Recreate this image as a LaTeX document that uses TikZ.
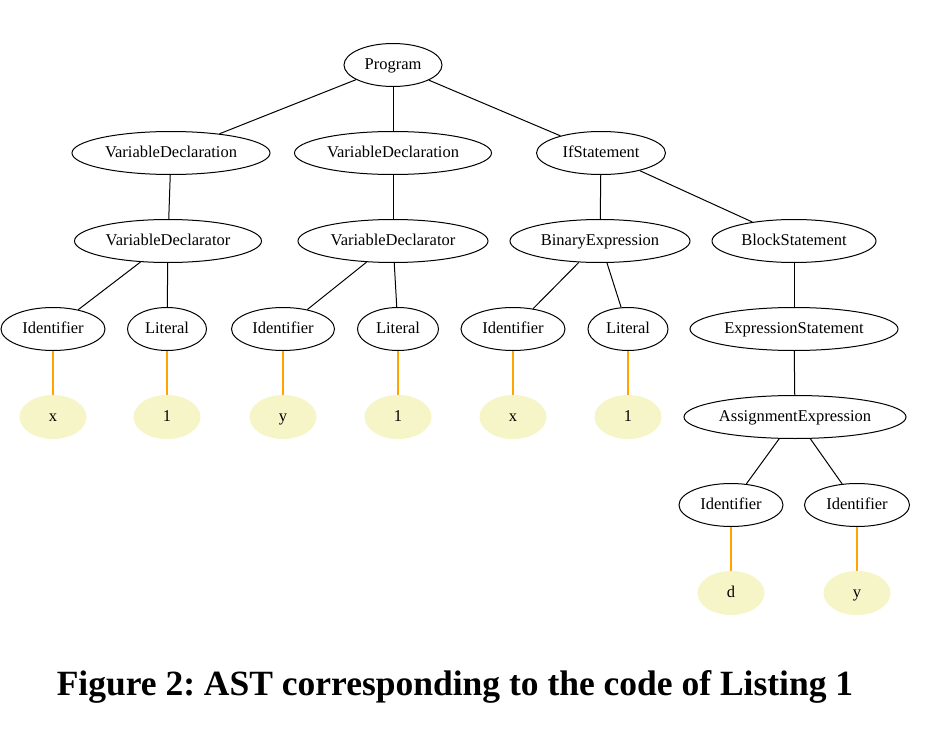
\documentclass[tikz,border=0pt]{standalone}
\usepackage{fontspec}
\setmainfont{Liberation Serif}
\usetikzlibrary{shapes.geometric}
\definecolor{leaffill}{RGB}{245,245,200}
\definecolor{leafedge}{RGB}{255,165,0}
\frenchspacing
\begin{document}
\begin{tikzpicture}[x=1pt,y=-1pt,
  ast/.style={ellipse,draw=black,line width=1pt,inner sep=0pt,minimum height=43pt,text height=11pt,text depth=1.5pt,font=\fontsize{16.5}{20}\selectfont},
  leaf/.style={ellipse,fill=leaffill,draw=none,inner sep=0pt,minimum width=67pt,minimum height=44pt,text height=11pt,text depth=1.5pt,font=\fontsize{16.5}{20}\selectfont},
  conn/.style={draw=black,line width=1pt},
  leafconn/.style={draw=leafedge,line width=1.1pt}]
\useasboundingbox (0,0) rectangle (926,730);
\node[ast,minimum width=98pt] (prog) at (393,65) {Program};
\node[ast,minimum width=198pt] (vd1) at (171,153) {VariableDeclaration};
\node[ast,minimum width=197pt] (vd2) at (393,153) {VariableDeclaration};
\node[ast,minimum width=129pt] (ifs) at (601,153) {IfStatement};
\node[ast,minimum width=187pt] (vr1) at (168,241) {VariableDeclarator};
\node[ast,minimum width=190pt] (vr2) at (393,241) {VariableDeclarator};
\node[ast,minimum width=180pt] (bin) at (600,241) {BinaryExpression};
\node[ast,minimum width=164pt] (blk) at (794,241) {BlockStatement};
\node[ast,minimum width=104pt] (id1) at (53,329) {Identifier};
\node[ast,minimum width=79pt] (li1) at (167,329) {Literal};
\node[ast,minimum width=103pt] (id2) at (283,329) {Identifier};
\node[ast,minimum width=81pt] (li2) at (398,329) {Literal};
\node[ast,minimum width=104pt] (id3) at (513,329) {Identifier};
\node[ast,minimum width=80pt] (li3) at (628,329) {Literal};
\node[ast,minimum width=208pt] (exs) at (794,329) {ExpressionStatement};
\node[ast,minimum width=222pt] (asg) at (795,417) {AssignmentExpression};
\node[ast,minimum width=104pt] (id4) at (731,505) {Identifier};
\node[ast,minimum width=105pt] (id5) at (857,505) {Identifier};
\node[leaf] (lx1) at (53,417) {x};
\node[leaf] (l11) at (167,417) {1};
\node[leaf] (ly1) at (283,417) {y};
\node[leaf] (l12) at (398,417) {1};
\node[leaf] (lx2) at (513,417) {x};
\node[leaf] (l13) at (628,417) {1};
\node[leaf] (ld) at (731,593) {d};
\node[leaf] (ly2) at (857,593) {y};
\draw[conn] (prog) -- (vd1);
\draw[conn] (prog) -- (vd2);
\draw[conn] (prog) -- (ifs);
\draw[conn] (vd1) -- (vr1);
\draw[conn] (vd2) -- (vr2);
\draw[conn] (ifs) -- (bin);
\draw[conn] (ifs) -- (blk);
\draw[conn] (vr1) -- (id1);
\draw[conn] (vr1) -- (li1);
\draw[conn] (vr2) -- (id2);
\draw[conn] (vr2) -- (li2);
\draw[conn] (bin) -- (id3);
\draw[conn] (bin) -- (li3);
\draw[conn] (blk) -- (exs);
\draw[conn] (exs) -- (asg);
\draw[conn] (asg) -- (id4);
\draw[conn] (asg) -- (id5);
\draw[leafconn] (id1) -- (lx1);
\draw[leafconn] (li1) -- (l11);
\draw[leafconn] (id2) -- (ly1);
\draw[leafconn] (li2) -- (l12);
\draw[leafconn] (id3) -- (lx2);
\draw[leafconn] (li3) -- (l13);
\draw[leafconn] (id4) -- (ld);
\draw[leafconn] (id5) -- (ly2);
\node[font=\fontsize{35.5}{42}\selectfont\bfseries,anchor=base,inner sep=0pt] (cap) at (455,695) {Figure 2: AST corresponding to the code of Listing 1};
\end{tikzpicture}
\end{document}
